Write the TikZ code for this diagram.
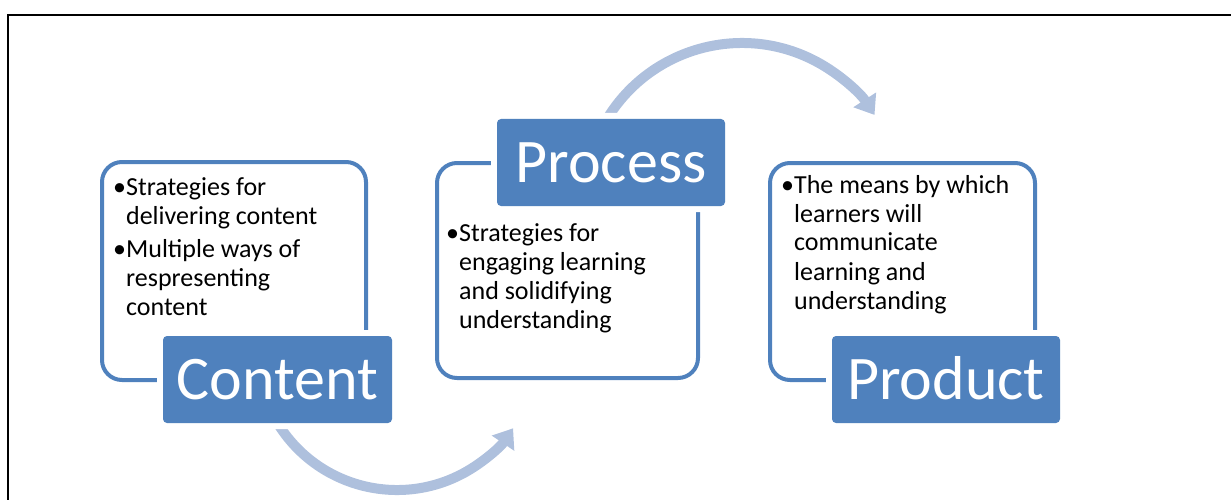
\documentclass[tikz,border=0pt]{standalone}
\usepackage{fontspec}
\setmainfont{Carlito}
\usetikzlibrary{arrows.meta}
\definecolor{accent}{HTML}{4F81BD}
\definecolor{arcblue}{RGB}{174,192,221}
\begin{document}
\begin{tikzpicture}[x=1pt,y=1pt,
  frame/.style={line width=2.5pt, draw=black},
  outline/.style={draw=accent, line width=4pt, rounded corners=20pt, inner sep=0pt},
  labelbox/.style={fill=accent, rounded corners=4pt, inner sep=0pt, text=white,
    font=\fontsize{62}{70}\selectfont, text height=40pt, text depth=0pt,
    minimum width=228pt, minimum height=87pt,
    preaction={draw=white, line width=12pt}},
  bullets/.style={inner sep=0pt, anchor=base west, font=\fontsize{26}{29}\selectfont},
  arcarrow/.style={draw=arcblue, line width=10pt, -{Triangle[width=26pt,length=18pt]}}]
\useasboundingbox (0,0) rectangle (1231,-500);
% frame
\coordinate (ftl) at (8,-15);
\coordinate (ftr) at (1231,-15);
\coordinate (fbl) at (8,-500);
\draw[frame] (ftr) -- (ftl) -- (fbl);
% outlines
\node[outline, minimum width=264pt, minimum height=218pt] (cbox) at (234,-271) {};
\node[outline, minimum width=261pt, minimum height=215pt] (pbox) at (567.5,-270.5) {};
\node[outline, minimum width=265pt, minimum height=217pt] (rbox) at (902.5,-271.5) {};
% arcs
\coordinate (a1s) at ([shift={(397,-350)}]210:140);
\coordinate (a2s) at ([shift={(742,-201)}]150:158);
\draw[arcarrow] (a1s) arc[start angle=210, end angle=326, radius=140];
\draw[arcarrow] (a2s) arc[start angle=150, end angle=33, radius=158];
% labels
\node[labelbox, minimum width=229pt] (content) at (277.5,-379.5) {Content};
\node[labelbox] (process) at (611,-162.5) {Process};
\node[labelbox] (product) at (946,-379.5) {Product};
% bullet texts
\node[bullets] (ctext) at (113,-195) {\begin{tabular}[t]{@{}l@{}l@{}}•&Strategies for\\&delivering content\\[4pt]•&Multiple ways of\\&respresenting\\&content\end{tabular}};
\node[bullets] (ptext) at (446,-241) {\begin{tabular}[t]{@{}l@{}l@{}}•&Strategies for\\&engaging learning\\&and solidifying\\&understanding\end{tabular}};
\node[bullets] (rtext) at (781,-193) {\begin{tabular}[t]{@{}l@{}l@{}}•&The means by which\\&learners will\\&communicate\\&learning and\\&understanding\end{tabular}};
\end{tikzpicture}
\end{document}
